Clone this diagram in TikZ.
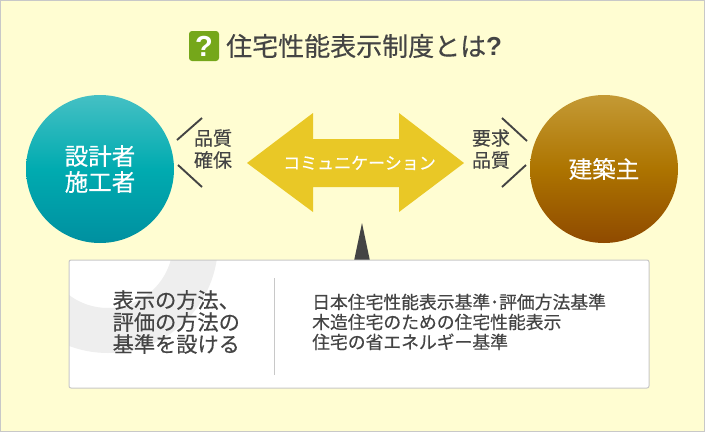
\documentclass[tikz,border=0pt]{standalone}
\usepackage{fontspec}
\setmainfont[FakeBold=0.35]{Noto Sans CJK JP}
\newfontfamily\heavyfont{Liberation Sans}
\usetikzlibrary{shapes.geometric}
\definecolor{bgcol}{HTML}{FFFDD2}
\definecolor{edgecol}{HTML}{C8C8C8}
\definecolor{inkcol}{HTML}{444444}
\definecolor{arrowcol}{HTML}{E9C826}
\definecolor{ringcol}{HTML}{EEEEEE}
\definecolor{iconcol}{HTML}{75A71A}
\definecolor{tealtop}{HTML}{45C0C4}
\definecolor{tealmid}{HTML}{00ABB0}
\definecolor{tealbot}{HTML}{0090A0}
\definecolor{browntop}{HTML}{C49A35}
\definecolor{brownmid}{HTML}{AD7400}
\definecolor{brownbot}{HTML}{8F4A00}
\tikzset{
  txt/.style={text=inkcol,inner sep=0pt,align=left},
  bar/.style={draw=inkcol,line width=1.9pt},
  circ/.style={circle,minimum size=148pt,inner sep=0pt,text=white,align=center,font=\fontsize{23.5}{27}\selectfont},
}
\begin{document}
\begin{tikzpicture}[x=1pt,y=-1pt]
\useasboundingbox (0,0) rectangle (705,432);
\fill[bgcol] (0,0) rectangle (705,432);
\draw[edgecol,line width=1pt] (0.5,0.5) rectangle (704.5,431.5);
% title
\node[fill=iconcol,rounded corners=3pt,minimum size=30pt,inner sep=0pt,text=white,font=\heavyfont\bfseries\fontsize{29}{29}\selectfont] (icon) at (204,46) {?};
\node[txt,anchor=west,font=\fontsize{26}{26}\selectfont] (title) at (226,46) {住宅性能表示制度とは{\heavyfont\bfseries ?}};
% circles
\node[circ,top color=tealtop,bottom color=tealbot,middle color=tealmid] (left) at (100,169) {設計者\\[-1pt]施工者};
\node[circ,top color=browntop,bottom color=brownbot,middle color=brownmid] (right) at (604,169) {建築主};
% ticks
\coordinate (la) at (177,140); \coordinate (lb) at (202,118);
\coordinate (lc) at (178,165); \coordinate (ld) at (202,187);
\coordinate (ra) at (527,141); \coordinate (rb) at (502,118);
\coordinate (rc) at (526,165); \coordinate (rd) at (502,187);
\draw[bar] (la) -- (lb);
\draw[bar] (lc) -- (ld);
\draw[bar] (ra) -- (rb);
\draw[bar] (rc) -- (rd);
\node[txt,font=\fontsize{19}{22}\selectfont] (quality) at (213,149) {品質\\確保};
\node[txt,font=\fontsize{19}{22}\selectfont] (demand) at (491,149) {要求\\品質};
% double arrow
\fill[arrowcol] (247,163) -- (313,113) -- (313,139) -- (399,139) -- (399,113) -- (464,163) -- (399,212) -- (399,187) -- (313,187) -- (313,212) -- cycle;
\node[text=white,inner sep=0pt,font=\fontsize{17}{17}\selectfont] (comm) at (359.5,163) {コミュニケーション};
% pointer
\fill[inkcol] (362,223) -- (370,261) -- (354,261) -- cycle;
% box
\begin{scope}
\clip[rounded corners=2pt] (69,260) rectangle (649,388);
\fill[white] (69,260) rectangle (649,388);
\fill[ringcol,even odd rule] (108,243) circle (110) (108,243) circle (65);
\end{scope}
\draw[edgecol,line width=1pt,rounded corners=2pt] (69,260) rectangle (649,388);
\draw[edgecol,line width=1pt] (274.5,278) -- (274.5,375);
\node[txt,anchor=north west,font=\fontsize{21.2}{22}\selectfont] (how) at (112.5,290) {表示の方法、\\評価の方法の\\基準を設ける};
\node[txt,anchor=north west,font=\fontsize{17.8}{20}\selectfont] (stds) at (312,293.5) {日本住宅性能表示基準･評価方法基準\\木造住宅のための住宅性能表示\\住宅の省エネルギー基準};
\end{tikzpicture}
\end{document}
